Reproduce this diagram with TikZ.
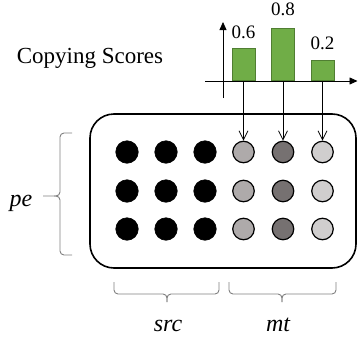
\documentclass[tikz,border=0pt]{standalone}
\usepackage{fontspec}
\setmainfont{Liberation Serif}
\usetikzlibrary{arrows.meta}
\definecolor{barfill}{HTML}{70AD47}
\definecolor{barline}{HTML}{507E32}
\definecolor{gA}{HTML}{AEAAAA}
\definecolor{gB}{HTML}{767171}
\definecolor{gC}{HTML}{D0CECE}
\definecolor{bracegray}{HTML}{808080}
\tikzset{
  dotblack/.style={circle, fill=black, draw=black, line width=0.6pt, minimum size=22.5pt, inner sep=0pt},
  dotgray/.style={circle, draw=black, line width=1.2pt, minimum size=21.5pt, inner sep=0pt},
  bar/.style={draw=barline, fill=barfill, line width=0.9pt, minimum width=23pt, inner sep=0pt, anchor=south},
  axisline/.style={line width=0.8pt, -{Triangle[length=8pt,width=7pt]}},
  copyarrow/.style={line width=0.8pt, -{Straight Barb[length=9pt,width=9pt]}},
  bracestyle/.style={draw=bracegray, line width=0.9pt, rounded corners=4pt},
  numlabel/.style={anchor=base, inner sep=0pt, font=\fontsize{19}{23}\selectfont},
  itlabel/.style={anchor=base, inner sep=0pt, font=\fontsize{24}{28}\selectfont\itshape},
}
\begin{document}
\begin{tikzpicture}[x=1pt,y=-1pt]
\useasboundingbox (0,0) rectangle (358,340);
% title
\node[anchor=base, inner sep=0pt, font=\fontsize{23}{28}\selectfont] (title) at (90,63) {Copying Scores};
% big box
\node[draw, line width=1.6pt, rounded corners=24pt, minimum width=266pt, minimum height=154pt, inner sep=0pt] (box) at (223,191) {};
% dots
\foreach \r/\y in {1/152,2/191,3/229}{
  \node[dotblack] (c\r1) at (127,\y) {};
  \node[dotblack] (c\r2) at (166,\y) {};
  \node[dotblack] (c\r3) at (205,\y) {};
  \node[dotgray, fill=gA] (c\r4) at (243.5,\y) {};
  \node[dotgray, fill=gB] (c\r5) at (283,\y) {};
  \node[dotgray, fill=gC] (c\r6) at (322.5,\y) {};
}
% bars
\node[bar, minimum height=32pt] (b1) at (243.5,81) {};
\node[bar, minimum height=52pt] (b2) at (283,81) {};
\node[bar, minimum height=20pt] (b3) at (322.5,81) {};
% axes
\coordinate (yb) at (223,98);
\coordinate (yt) at (223,22);
\coordinate (xl) at (205,81);
\coordinate (xr) at (357.5,81);
\draw[axisline] (yb) -- (yt);
\draw[axisline] (xl) -- (xr);
% values
\node[numlabel] (v1) at (243.5,38) {0.6};
\node[numlabel] (v2) at (283,16) {0.8};
\node[numlabel] (v3) at (322.5,49) {0.2};
% copy arrows
\draw[copyarrow] (b1.south) -- (c14.north);
\draw[copyarrow] (b2.south) -- (c15.north);
\draw[copyarrow] (b3.south) -- (c16.north);
% pe brace
\coordinate (pt) at (72,133);
\coordinate (pb) at (72,255);
\coordinate (ptip) at (43,196);
\draw[bracestyle] (pt) -- (60,133) -- (60,196) -- (ptip);
\draw[bracestyle] (pb) -- (60,255) -- (60,196) -- (54,196);
\node[itlabel] (pe) at (21,206) {pe};
% src brace
\coordinate (sl) at (114,282);
\coordinate (sr) at (219,282);
\coordinate (stip) at (167,302);
\draw[bracestyle] (sl) -- (114,294) -- (167,294) -- (stip);
\draw[bracestyle] (sr) -- (219,294) -- (167,294) -- (stip);
\node[itlabel] (src) at (168,331) {src};
% mt brace
\coordinate (ml) at (229,282);
\coordinate (mr) at (336,282);
\coordinate (mtip) at (282,302);
\draw[bracestyle] (ml) -- (229,294) -- (282,294) -- (mtip);
\draw[bracestyle] (mr) -- (336,294) -- (282,294) -- (mtip);
\node[itlabel] (mt) at (278,331) {mt};
\end{tikzpicture}
\end{document}
